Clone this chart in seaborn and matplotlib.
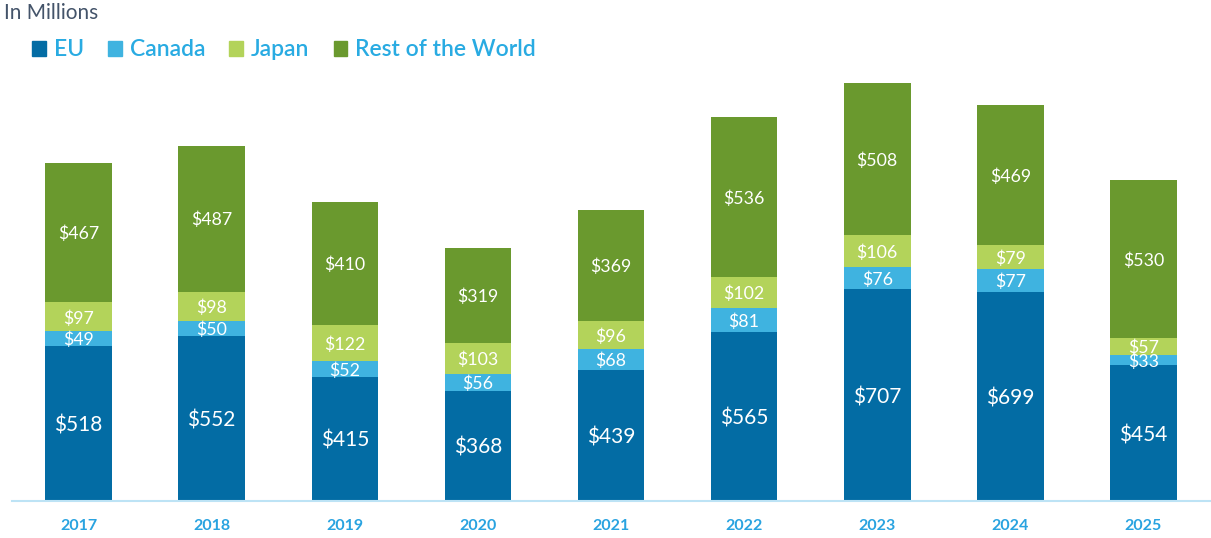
import matplotlib
matplotlib.use('Agg')
import matplotlib.pyplot as plt
import seaborn as sns
import numpy as np
import pandas as pd

# Datos (en millones)
anios = ['2017', '2018', '2019', '2020', '2021', '2022', '2023', '2024', '2025']
eu = [518, 552, 415, 368, 439, 565, 707, 699, 454]
canada = [49, 50, 52, 56, 68, 81, 76, 77, 33]
japon = [97, 98, 122, 103, 96, 102, 106, 79, 57]
resto = [467, 487, 410, 319, 369, 536, 508, 469, 530]

series = ['EU', 'Canada', 'Japan', 'Rest of the World']
colores = ['#036CA4', '#3FB3E0', '#B3D35A', '#6A992E']

sns.set_theme(style='white')
plt.rcParams['font.family'] = ['Lato', 'DejaVu Sans']

fig = plt.figure(figsize=(12.11, 5.38), dpi=100)
ax = fig.add_axes([12 / 1211, 1 - 501 / 538, 1198 / 1211, (501 - 82) / 538])

df = pd.DataFrame({'anio': anios, 'EU': eu, 'Canada': canada,
                   'Japan': japon, 'Rest of the World': resto})

# Barras apiladas + etiquetas
base = np.zeros(len(anios))
for serie, color in zip(series, colores):
    sns.barplot(data=df, x='anio', y=serie, bottom=base, color=color,
                width=0.5, ax=ax, saturation=1, linewidth=0)
    tam = 15 if serie == 'EU' else 12.8
    for i, v in enumerate(df[serie]):
        ax.text(i, base[i] + v / 2, f'${v}', ha='center', va='center_baseline',
                color='white', fontsize=tam)
    base = base + df[serie].values

ax.set_ylim(0, 1400)
ax.set_xlim(-0.5, len(anios) - 0.5)
ax.set_xlabel('')
ax.set_ylabel('')
ax.set_yticks([])
for lado in ['top', 'right', 'left']:
    ax.spines[lado].set_visible(False)
ax.spines['bottom'].set_color('#BDE3F5')
ax.spines['bottom'].set_linewidth(1.5)
ax.tick_params(axis='x', length=0, pad=13)
for t in ax.get_xticklabels():
    t.set_color('#29A3E0')
    t.set_fontweight('bold')
    t.set_fontsize(11.5)

# Titulo y leyenda
fig.text(4 / 1211, 1 - 13 / 538, 'In Millions', color='#44546A', fontsize=15,
         va='center', ha='left')
handles = [plt.Rectangle((0, 0), 1, 1, color=c) for c in colores]
leg = fig.legend(handles, series, loc='center left',
                 bbox_to_anchor=(23 / 1211, 1 - 50 / 538), ncol=4, frameon=False,
                 prop={'size': 16.5, 'weight': 'semibold'},
                 handlelength=0.6, handleheight=0.6,
                 handletextpad=0.35, columnspacing=1.05, borderaxespad=0)
for t in leg.get_texts():
    t.set_color('#29ABE2')

fig.savefig('out.png', dpi=100)
